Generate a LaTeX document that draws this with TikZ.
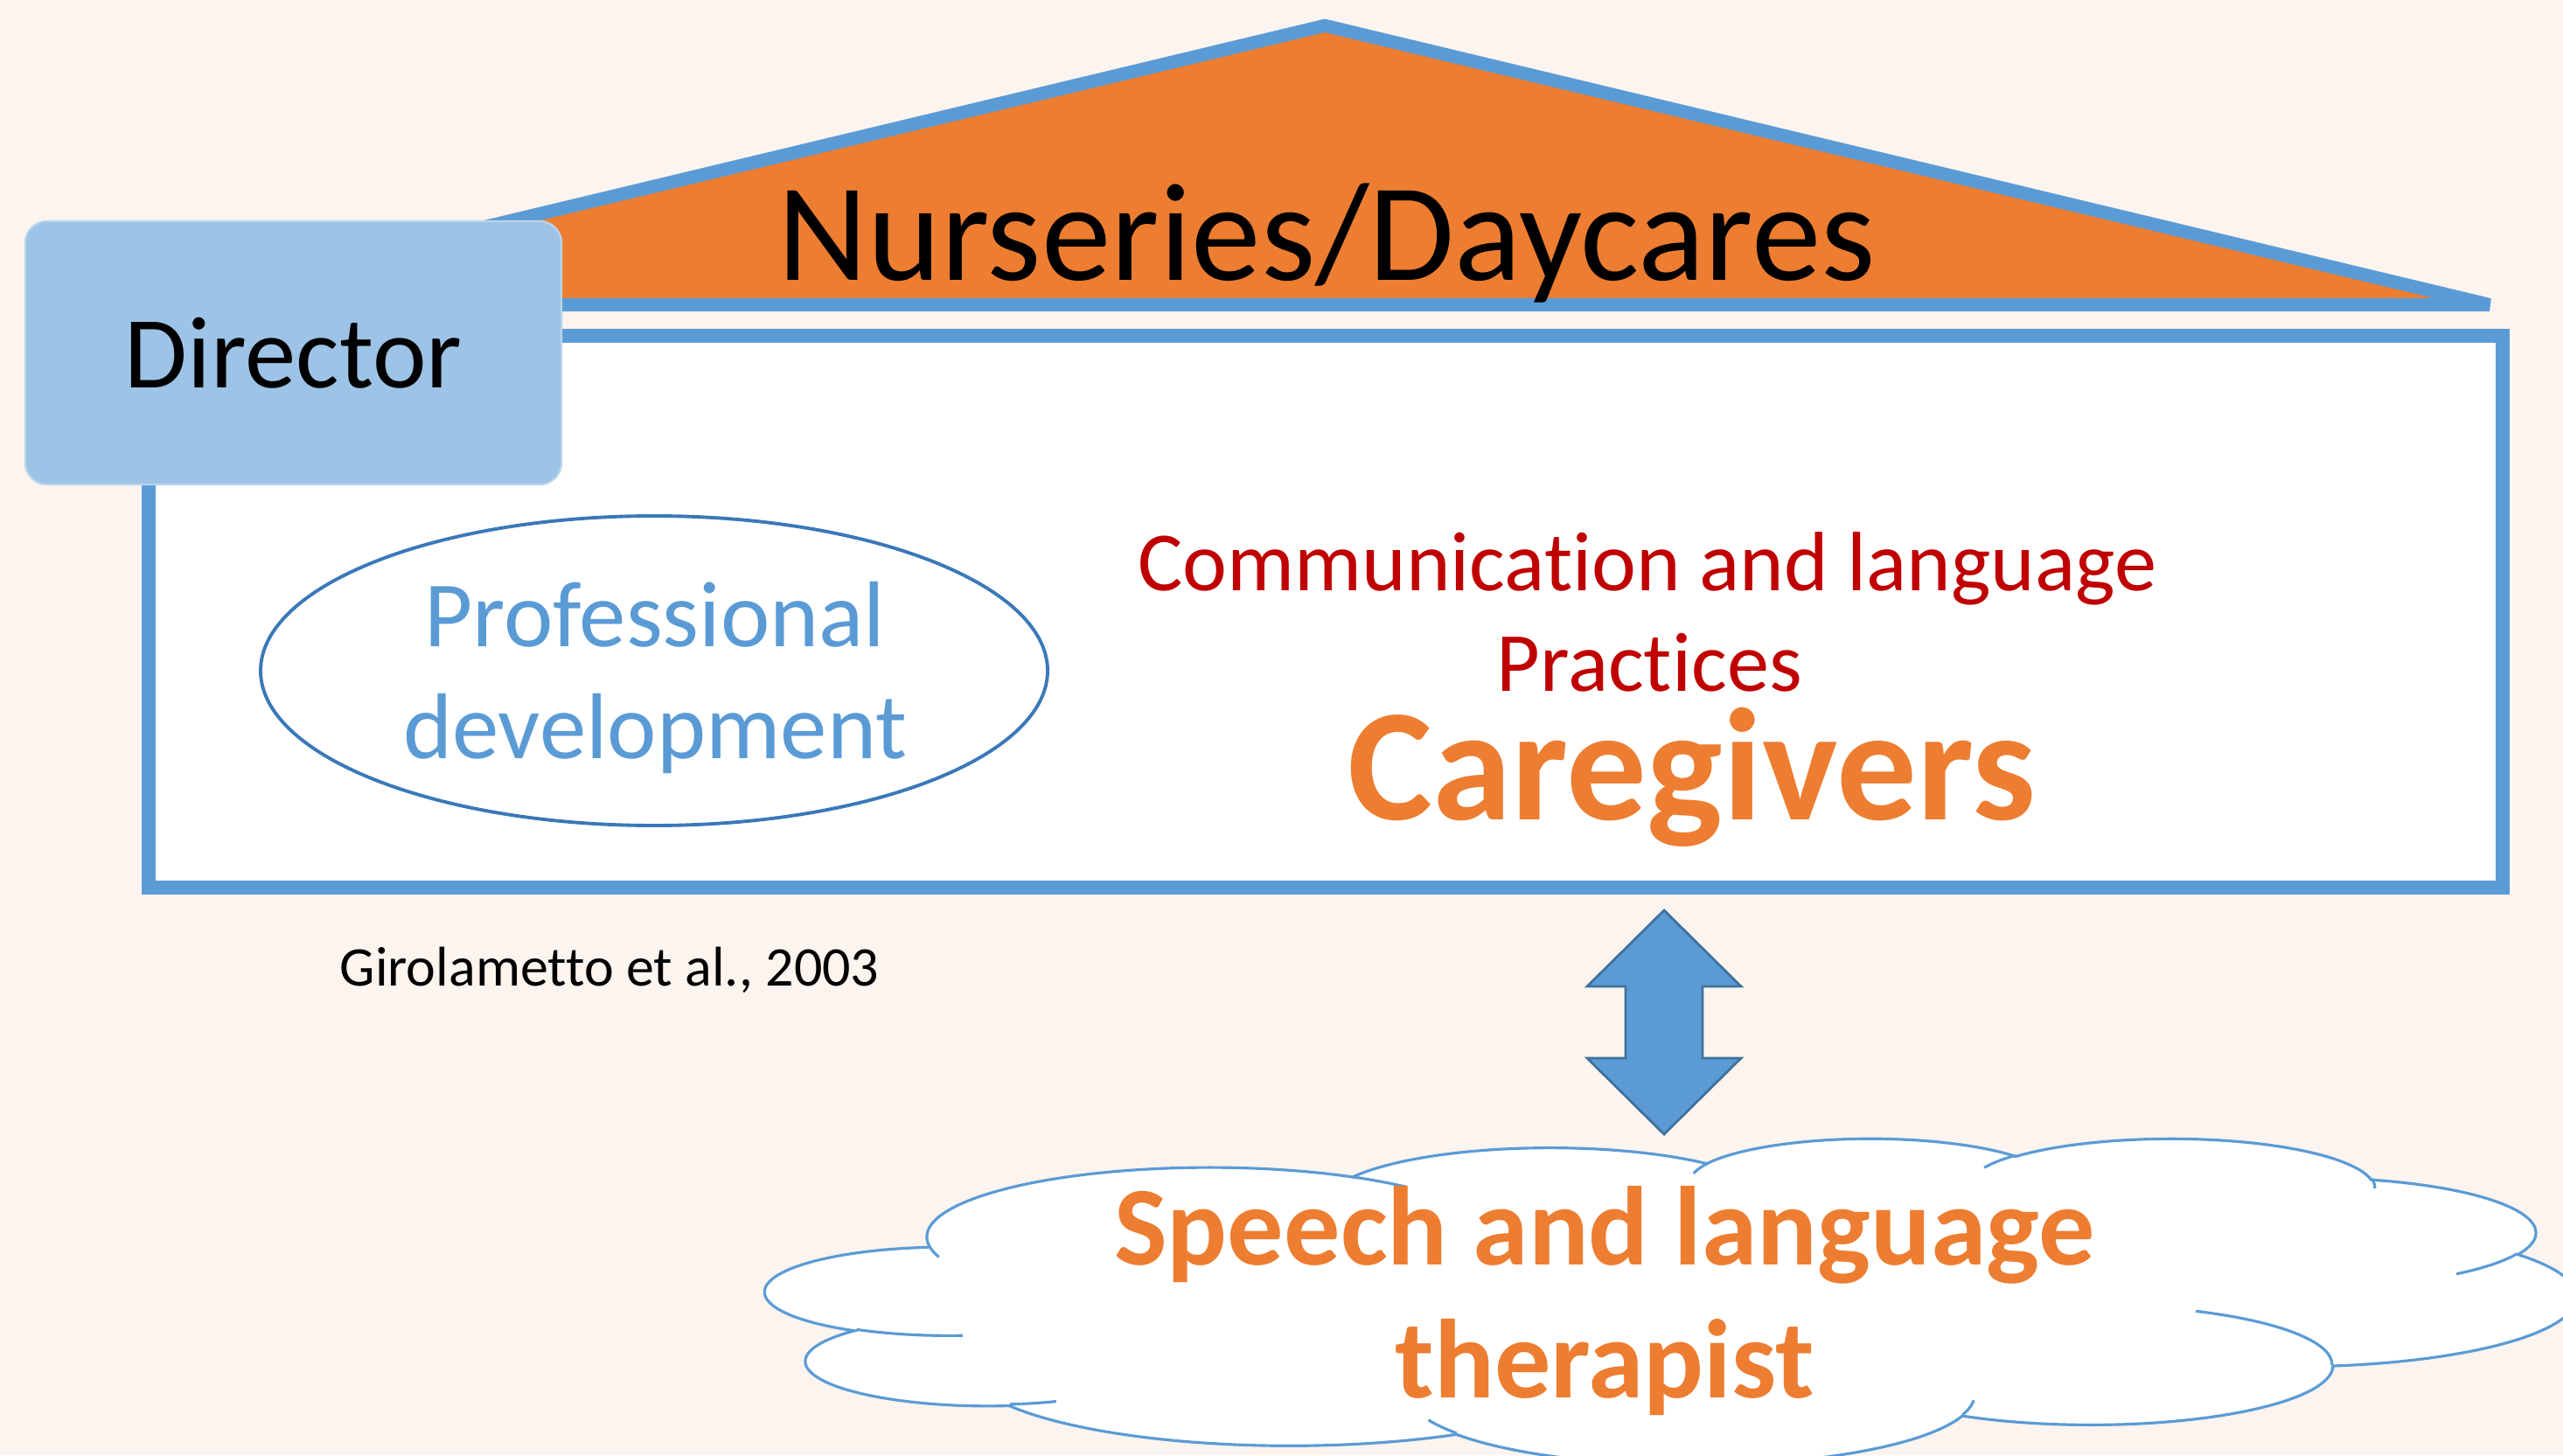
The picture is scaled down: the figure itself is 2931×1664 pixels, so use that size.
\documentclass[tikz,border=0pt]{standalone}
\usepackage{fontspec}
\setmainfont{Carlito}[Ligatures=NoCommon]
\definecolor{bg}{HTML}{FCF4EE}
\definecolor{accblue}{HTML}{5B9BD5}
\definecolor{darkblue}{HTML}{41719C}
\definecolor{ellblue}{HTML}{3A78B8}
\definecolor{dirfill}{HTML}{9DC3E6}
\definecolor{accorange}{HTML}{ED7D31}
\definecolor{darkred}{HTML}{C00000}
\tikzset{
  roofline/.style={draw=accblue, fill=accorange, line width=4.27pt, line join=bevel},
  houseline/.style={draw=accblue, fill=white, line width=4.55pt, line join=miter},
  dirbox/.style={fill=dirfill, draw=dirfill!70!white, line width=0.6pt, rounded corners=0.25cm,
    minimum width=6.13cm, minimum height=3.01cm, inner sep=0pt, text=black,
    font=\fontsize{33.2pt}{40pt}\selectfont},
  ellline/.style={draw=ellblue, line width=1.1pt},
  blockarrow/.style={fill=accblue, draw=darkblue, line width=0.8pt, line join=miter},
  cloudline/.style={draw=accblue, line width=0.9pt},
  cld/.style n args={4}{
    x radius=#1, y radius=#2,
    start angle={atan2((#1)*sin(#3),(#2)*cos(#3))},
    delta angle={mod(atan2((#1)*sin((#3)+(#4)),(#2)*cos((#3)+(#4)))-atan2((#1)*sin(#3),(#2)*cos(#3))+720,360)}},
  titletext/.style={anchor=base, inner sep=0pt, text=black, font=\fontsize{45.3pt}{52pt}\selectfont},
  proftext/.style={anchor=base, inner sep=0pt, text=accblue, font=\fontsize{30.4pt}{36pt}\selectfont},
  practext/.style={anchor=base, inner sep=0pt, text=darkred, font=\fontsize{27.4pt}{33pt}\selectfont},
  caretext/.style={anchor=base, inner sep=0pt, text=accorange, font=\bfseries\fontsize{52pt}{62pt}\selectfont},
  slttext/.style={anchor=base, inner sep=0pt, text=accorange, font=\bfseries\fontsize{36.5pt}{44pt}\selectfont},
  citetext/.style={anchor=base, inner sep=0pt, text=black, font=\fontsize{18.2pt}{22pt}\selectfont}
}
\begin{document}
\begin{tikzpicture}[x=0.01cm, y=-0.01cm]
\fill[bg] (0,0) rectangle (2931,1664);
\useasboundingbox (0,0) rectangle (2931,1664);

% roof
\draw[roofline] (183,348.5) -- (1515,29.3) -- (2847,348.5) -- cycle;
\node[titletext] (title) at (1517,321) {Nurseries/Daycares};

% house body
\draw[houseline] (170,384) rectangle (2862,1015);

% director
\node[dirbox] (director) at (335.5,403.5) {Director};

% professional development
\draw[ellline] (748,767) ellipse [x radius=450, y radius=177];
\node[proftext] (prof1) at (749,739) {Professional};
\node[proftext] (prof2) at (749,867) {development};

% practices
\node[practext] (comm1) at (1884,675) {Communication and language};
\node[practext] (comm2) at (1886,790) {Practices};
\node[caretext] (care) at (1935,937) {Caregivers};

% citation
\node[citetext] (cite) at (697,1127) {Girolametto et al., 2003};

% cloud (PowerPoint cloud geometry)
\begin{scope}[shift={(876,1301)}, x=0.04788cm, y=-0.00864cm]
\draw[cloudline, fill=white] (39.00,143.70)
  arc[cld={67.53}{91.90}{-190.4875}{123.7805}]
  arc[cld={53.33}{72.67}{-144.1024}{89.9452}]
  arc[cld={43.65}{59.45}{-145.8079}{99.7230}]
  arc[cld={48.57}{65.95}{-130.9861}{117.2417}]
  arc[cld={53.33}{72.73}{-78.7089}{109.0269}]
  arc[cld={67.75}{92.20}{-46.2673}{130.2690}]
  arc[cld={57.85}{78.67}{0.6250}{114.0333}]
  arc[cld={67.52}{92.15}{22.4516}{115.1726}]
  arc[cld={77.20}{105.43}{66.2426}{75.7110}]
  arc[cld={43.60}{59.18}{-274.9421}{146.7356}]
  arc[cld={43.45}{59.45}{-246.8285}{152.5189}]
  -- cycle;
\draw[cloudline]
  (46.93,261.77) arc[cld={43.45}{59.45}{86.7420}{26.4295}]
  (69.28,348.99) arc[cld={43.60}{59.18}{73.6105}{11.4475}]
  (164.78,390.90) arc[cld={67.52}{92.15}{137.6242}{14.0811}]
  (288.27,347.51) arc[cld={67.52}{92.15}{6.4533}{15.9984}]
  (341.29,229.54) arc[cld={57.85}{78.67}{-70.2924}{70.9174}]
  (417.98,153.54) arc[cld={53.33}{72.73}{30.3180}{27.7515}]
  (383.24,54.26) arc[cld={48.57}{65.95}{-13.7443}{14.8589}]
  (290.78,39.52) arc[cld={48.57}{65.95}{-149.1815}{18.1954}]
  (221.41,47.20) arc[cld={43.65}{59.45}{-163.4943}{17.6864}]
  (140.00,51.92) arc[cld={67.53}{91.90}{-66.7070}{12.3194}]
  (41.27,157.89) arc[cld={67.53}{91.90}{157.6544}{11.8582}];
\end{scope}
\node[slttext] (slt1) at (1835,1446) {Speech and language};
\node[slttext] (slt2) at (1835,1598) {therapist};

% double block arrow between caregivers and therapist
\draw[blockarrow] (1903,1041) -- (1991,1128) -- (1947,1128) -- (1947,1210) -- (1991,1210)
  -- (1903,1297) -- (1815,1210) -- (1859,1210) -- (1859,1128) -- (1815,1128) -- cycle;
\end{tikzpicture}
\end{document}
